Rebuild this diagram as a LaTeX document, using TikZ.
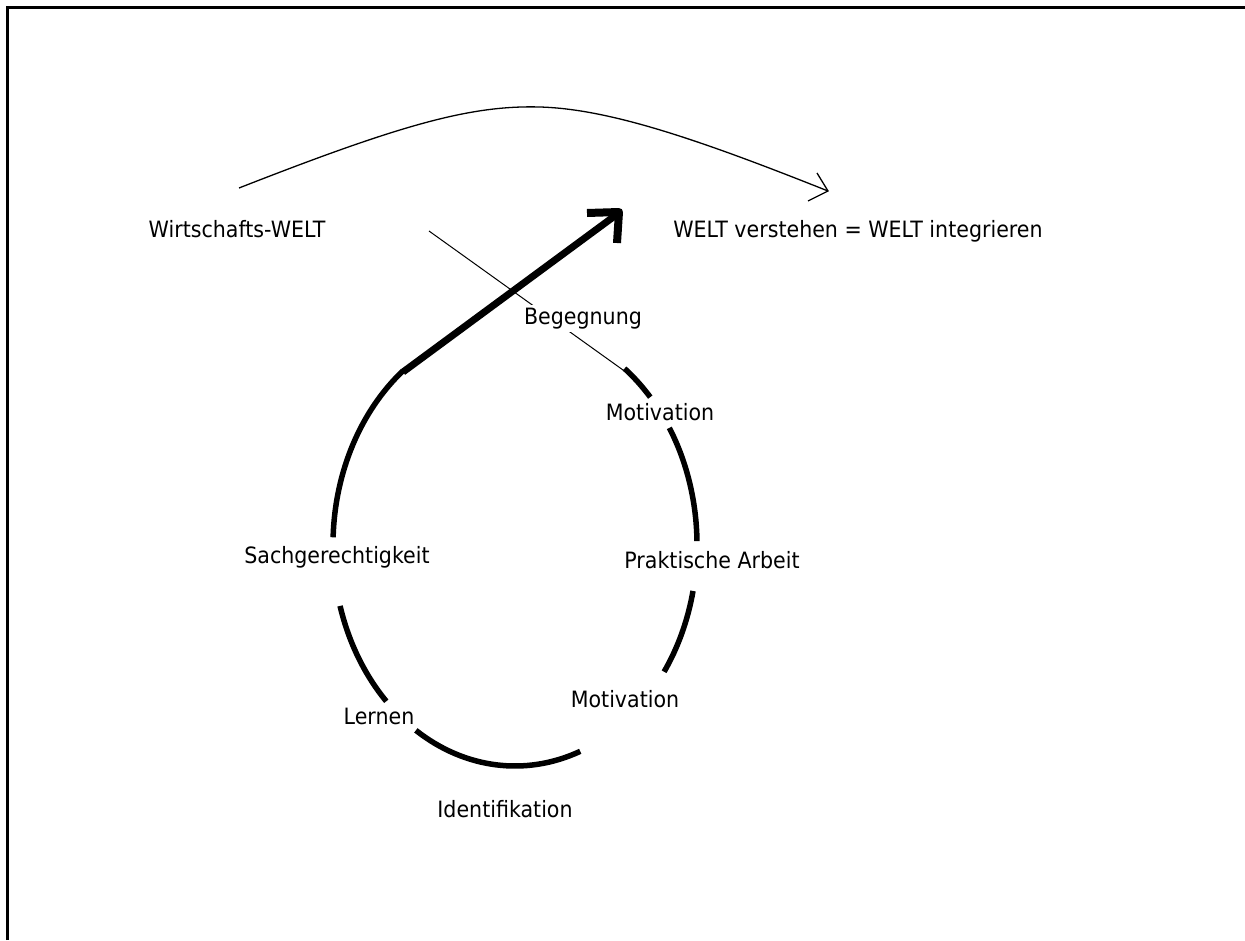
\documentclass[tikz,border=0pt]{standalone}
\usepackage{fontspec}
\setmainfont{DejaVu Sans}[FakeStretch=0.915]
\begin{document}
\begin{tikzpicture}[x=1pt,y=1pt,
  lbl/.style={font=\fontsize{22.5}{26}\selectfont, anchor=base, inner sep=3pt},
  loopline/.style={line width=5.5pt},
  thinline/.style={line width=1pt},
  arcline/.style={line width=1.3pt}]
\useasboundingbox (0,0) rectangle (1245,-940);
% frame
\draw[line width=3pt] (7,-940) -- (7,-7) -- (1245,-7);
% coordinates
\coordinate (arcS) at (239,-188);
\coordinate (arcP) at (540,-107);
\coordinate (arcT) at (828,-191);
\coordinate (arcB1) at (817,-173);
\coordinate (arcB2) at (808,-201);
\coordinate (t1) at (429,-231);
\coordinate (t2) at (630,-375);
\coordinate (a0) at (403,-372);
\coordinate (a1) at (616,-215);
\coordinate (h1) at (587,-213);
\coordinate (h2) at (619,-212);
\coordinate (h3) at (617,-243);
\coordinate (c) at (515,-545);
% top arc with open arrowhead
\draw[arcline] (arcS) .. controls (400,-125) and (470,-105) .. (arcP)
  .. controls (610,-109) and (700,-140) .. (arcT);
\draw[arcline] (arcB1) -- (arcT) -- (arcB2);
% thin line
\draw[thinline] (t1) -- (t2);
% loop segments
\draw[loopline] (c) ++(128:182pt and 221pt) arc[start angle=128,end angle=178,x radius=182pt,y radius=221pt];
\draw[loopline] (c) ++(196:182pt and 221pt) arc[start angle=196,end angle=225,x radius=182pt,y radius=221pt];
\draw[loopline] (c) ++(237:182pt and 221pt) arc[start angle=237,end angle=291,x radius=182pt,y radius=221pt];
\draw[loopline] (c) ++(325:182pt and 221pt) arc[start angle=325,end angle=348,x radius=182pt,y radius=221pt];
\draw[loopline] (c) ++(1:182pt and 221pt) arc[start angle=1,end angle=32,x radius=182pt,y radius=221pt];
\draw[loopline] (c) ++(42:182pt and 221pt) arc[start angle=42,end angle=53,x radius=182pt,y radius=221pt];
% big arrow
\draw[line width=7pt] (a0) -- (a1);
\draw[line width=8pt, line join=round] (h1) -- (h2) -- (h3);
% labels
\node[lbl] (ww) at (237,-237) {Wirtschafts-WELT};
\node[lbl] (wv) at (858,-237) {WELT verstehen = WELT integrieren};
\node[lbl, fill=white] (beg) at (583,-324) {Begegnung};
\node[lbl] (mot1) at (660,-420) {Motivation};
\node[lbl] (sach) at (337,-563) {Sachgerechtigkeit};
\node[lbl] (prak) at (712,-568) {Praktische Arbeit};
\node[lbl] (mot2) at (625,-707) {Motivation};
\node[lbl] (lern) at (379,-724) {Lernen};
\node[lbl] (iden) at (505,-817) {Identifikation};
\end{tikzpicture}
\end{document}
